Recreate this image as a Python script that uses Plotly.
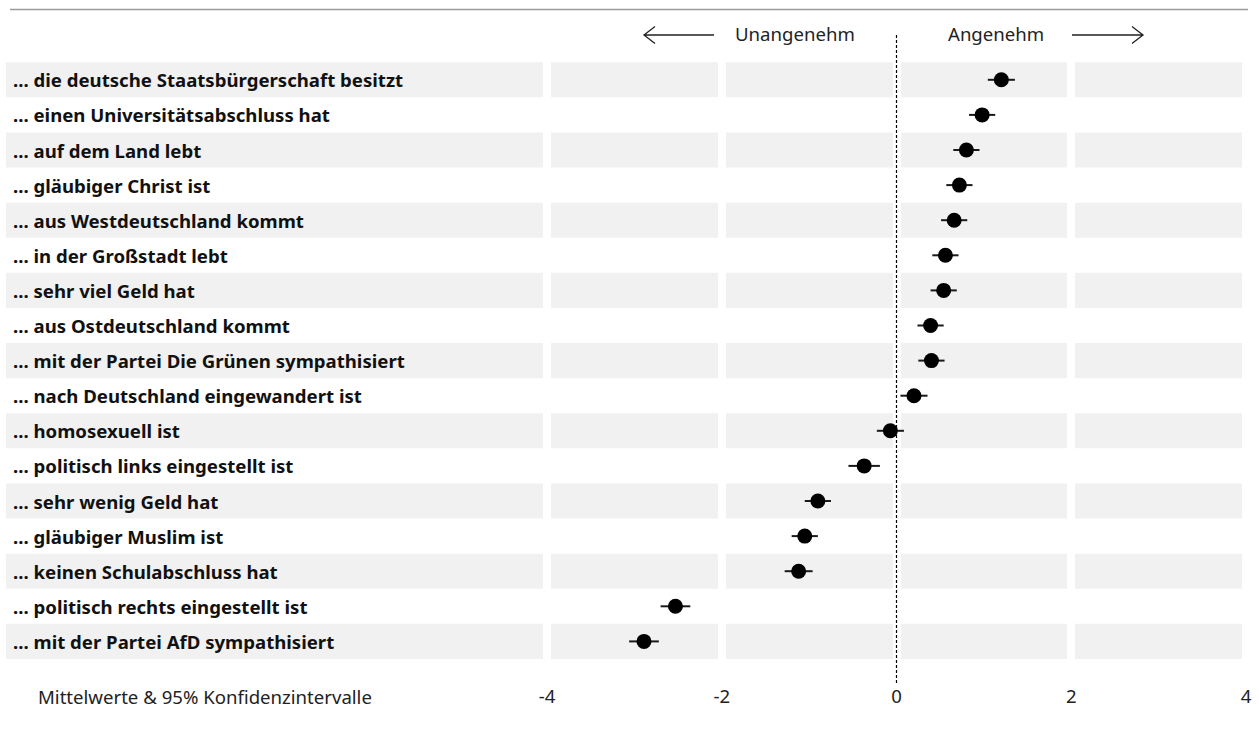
import plotly.graph_objects as go

# Survey items (top to bottom), mean rating and 95% CI half-width
items = [
    "... die deutsche Staatsbürgerschaft besitzt",
    "... einen Universitätsabschluss hat",
    "... auf dem Land lebt",
    "... gläubiger Christ ist",
    "... aus Westdeutschland kommt",
    "... in der Großstadt lebt",
    "... sehr viel Geld hat",
    "... aus Ostdeutschland kommt",
    "... mit der Partei Die Grünen sympathisiert",
    "... nach Deutschland eingewandert ist",
    "... homosexuell ist",
    "... politisch links eingestellt ist",
    "... sehr wenig Geld hat",
    "... gläubiger Muslim ist",
    "... keinen Schulabschluss hat",
    "... politisch rechts eingestellt ist",
    "... mit der Partei AfD sympathisiert",
]
means = [1.20, 0.98, 0.80, 0.72, 0.66, 0.56, 0.54, 0.39, 0.40, 0.20,
         -0.07, -0.37, -0.90, -1.05, -1.12, -2.53, -2.89]
ci_half = [0.155, 0.15, 0.15, 0.15, 0.15, 0.15, 0.15, 0.15, 0.15, 0.155,
           0.155, 0.18, 0.15, 0.15, 0.16, 0.17, 0.17]
x_ticks = [-4, -2, 0, 2, 4]
x_ticktext = ["-4", "-2", "0", "2", "4"]

W, H = 1259, 738
PLOT_H = 683                 # plot area height in px (bottom margin holds tick labels)
ZERO_PX, UNIT_PX = 896.5, 87.375
ROW_PX, ROW0_PX = 35.1, 79.8

x_min = -ZERO_PX / UNIT_PX
x_max = (W - ZERO_PX) / UNIT_PX
y_top = -ROW0_PX / ROW_PX
y_bot = (PLOT_H - ROW0_PX) / ROW_PX


def px(p):
    return p / W


def py(p):
    return (PLOT_H - p) / PLOT_H


FONT = "Noto Sans"
FS = 18.6
n = len(items)

fig = go.Figure()
fig.add_trace(go.Scatter(
    x=means, y=items, mode="markers",
    marker=dict(size=15, color="black"),
    error_x=dict(type="data", array=ci_half, symmetric=True,
                 thickness=2, width=0, color="#1a1a1a"),
    showlegend=False, hoverinfo="x+y",
))

shapes = []
# alternating grey row bands, reaching into the label column
for i in range(0, n, 2):
    shapes.append(dict(type="rect", xref="x", yref="y", layer="below",
                       x0=x_min + 6 / UNIT_PX, x1=4, y0=i - 0.5, y1=i + 0.5,
                       fillcolor="#f1f1f1", line=dict(width=0)))
# reference line at zero
shapes.append(dict(type="line", xref="x", yref="paper", x0=0, x1=0,
                   y0=0, y1=py(33), line=dict(color="black", width=1.2, dash="3px,2px")))
# top rule
shapes.append(dict(type="line", xref="paper", yref="paper",
                   x0=px(10), x1=px(1248), y0=py(9.5), y1=py(9.5),
                   line=dict(color="#9a9a9a", width=1.5)))
# direction arrows
ay = 35
arrow_line = dict(color="#222", width=1.3)
shapes.append(dict(type="path", xref="paper", yref="paper", line=arrow_line,
                   path=f"M{px(714)},{py(ay)} L{px(644)},{py(ay)} "
                        f"M{px(655)},{py(ay - 8.5)} L{px(644)},{py(ay)} L{px(655)},{py(ay + 8.5)}"))
shapes.append(dict(type="path", xref="paper", yref="paper", line=arrow_line,
                   path=f"M{px(1072)},{py(ay)} L{px(1143)},{py(ay)} "
                        f"M{px(1132)},{py(ay - 8.5)} L{px(1143)},{py(ay)} L{px(1132)},{py(ay + 8.5)}"))

annotations = []
for it in items:
    annotations.append(dict(xref="paper", yref="y", x=px(11), y=it, text=f"<b>{it}</b>",
                            xanchor="left", yanchor="middle", showarrow=False,
                            font=dict(family=FONT, size=FS, color="#111")))
annotations.append(dict(xref="paper", yref="paper", x=px(795), y=py(34), text="Unangenehm",
                        xanchor="center", yanchor="middle", showarrow=False,
                        font=dict(family=FONT, size=FS, color="#222")))
annotations.append(dict(xref="paper", yref="paper", x=px(996), y=py(34), text="Angenehm",
                        xanchor="center", yanchor="middle", showarrow=False,
                        font=dict(family=FONT, size=FS, color="#222")))
annotations.append(dict(xref="paper", yref="paper", x=px(36), y=py(696),
                        text="Mittelwerte &amp; 95% Konfidenzintervalle",
                        xanchor="left", yanchor="middle", showarrow=False,
                        font=dict(family=FONT, size=FS, color="#222")))

fig.update_layout(
    width=W, height=H,
    margin=dict(l=0, r=0, t=0, b=H - PLOT_H),
    paper_bgcolor="white", plot_bgcolor="white",
    font=dict(family=FONT, size=FS, color="#222"),
    shapes=shapes, annotations=annotations,
    xaxis=dict(range=[x_min, x_max], tickvals=x_ticks, ticktext=x_ticktext,
               showgrid=True, gridcolor="white", gridwidth=8,
               zeroline=False, showline=False, ticks="",
               tickfont=dict(family=FONT, size=FS, color="#222"), fixedrange=True),
    yaxis=dict(type="category", categoryarray=items, range=[y_bot, y_top],
               showgrid=False, zeroline=False, showline=False,
               showticklabels=False, ticks="", fixedrange=True),
)

fig.write_html("out.html")
